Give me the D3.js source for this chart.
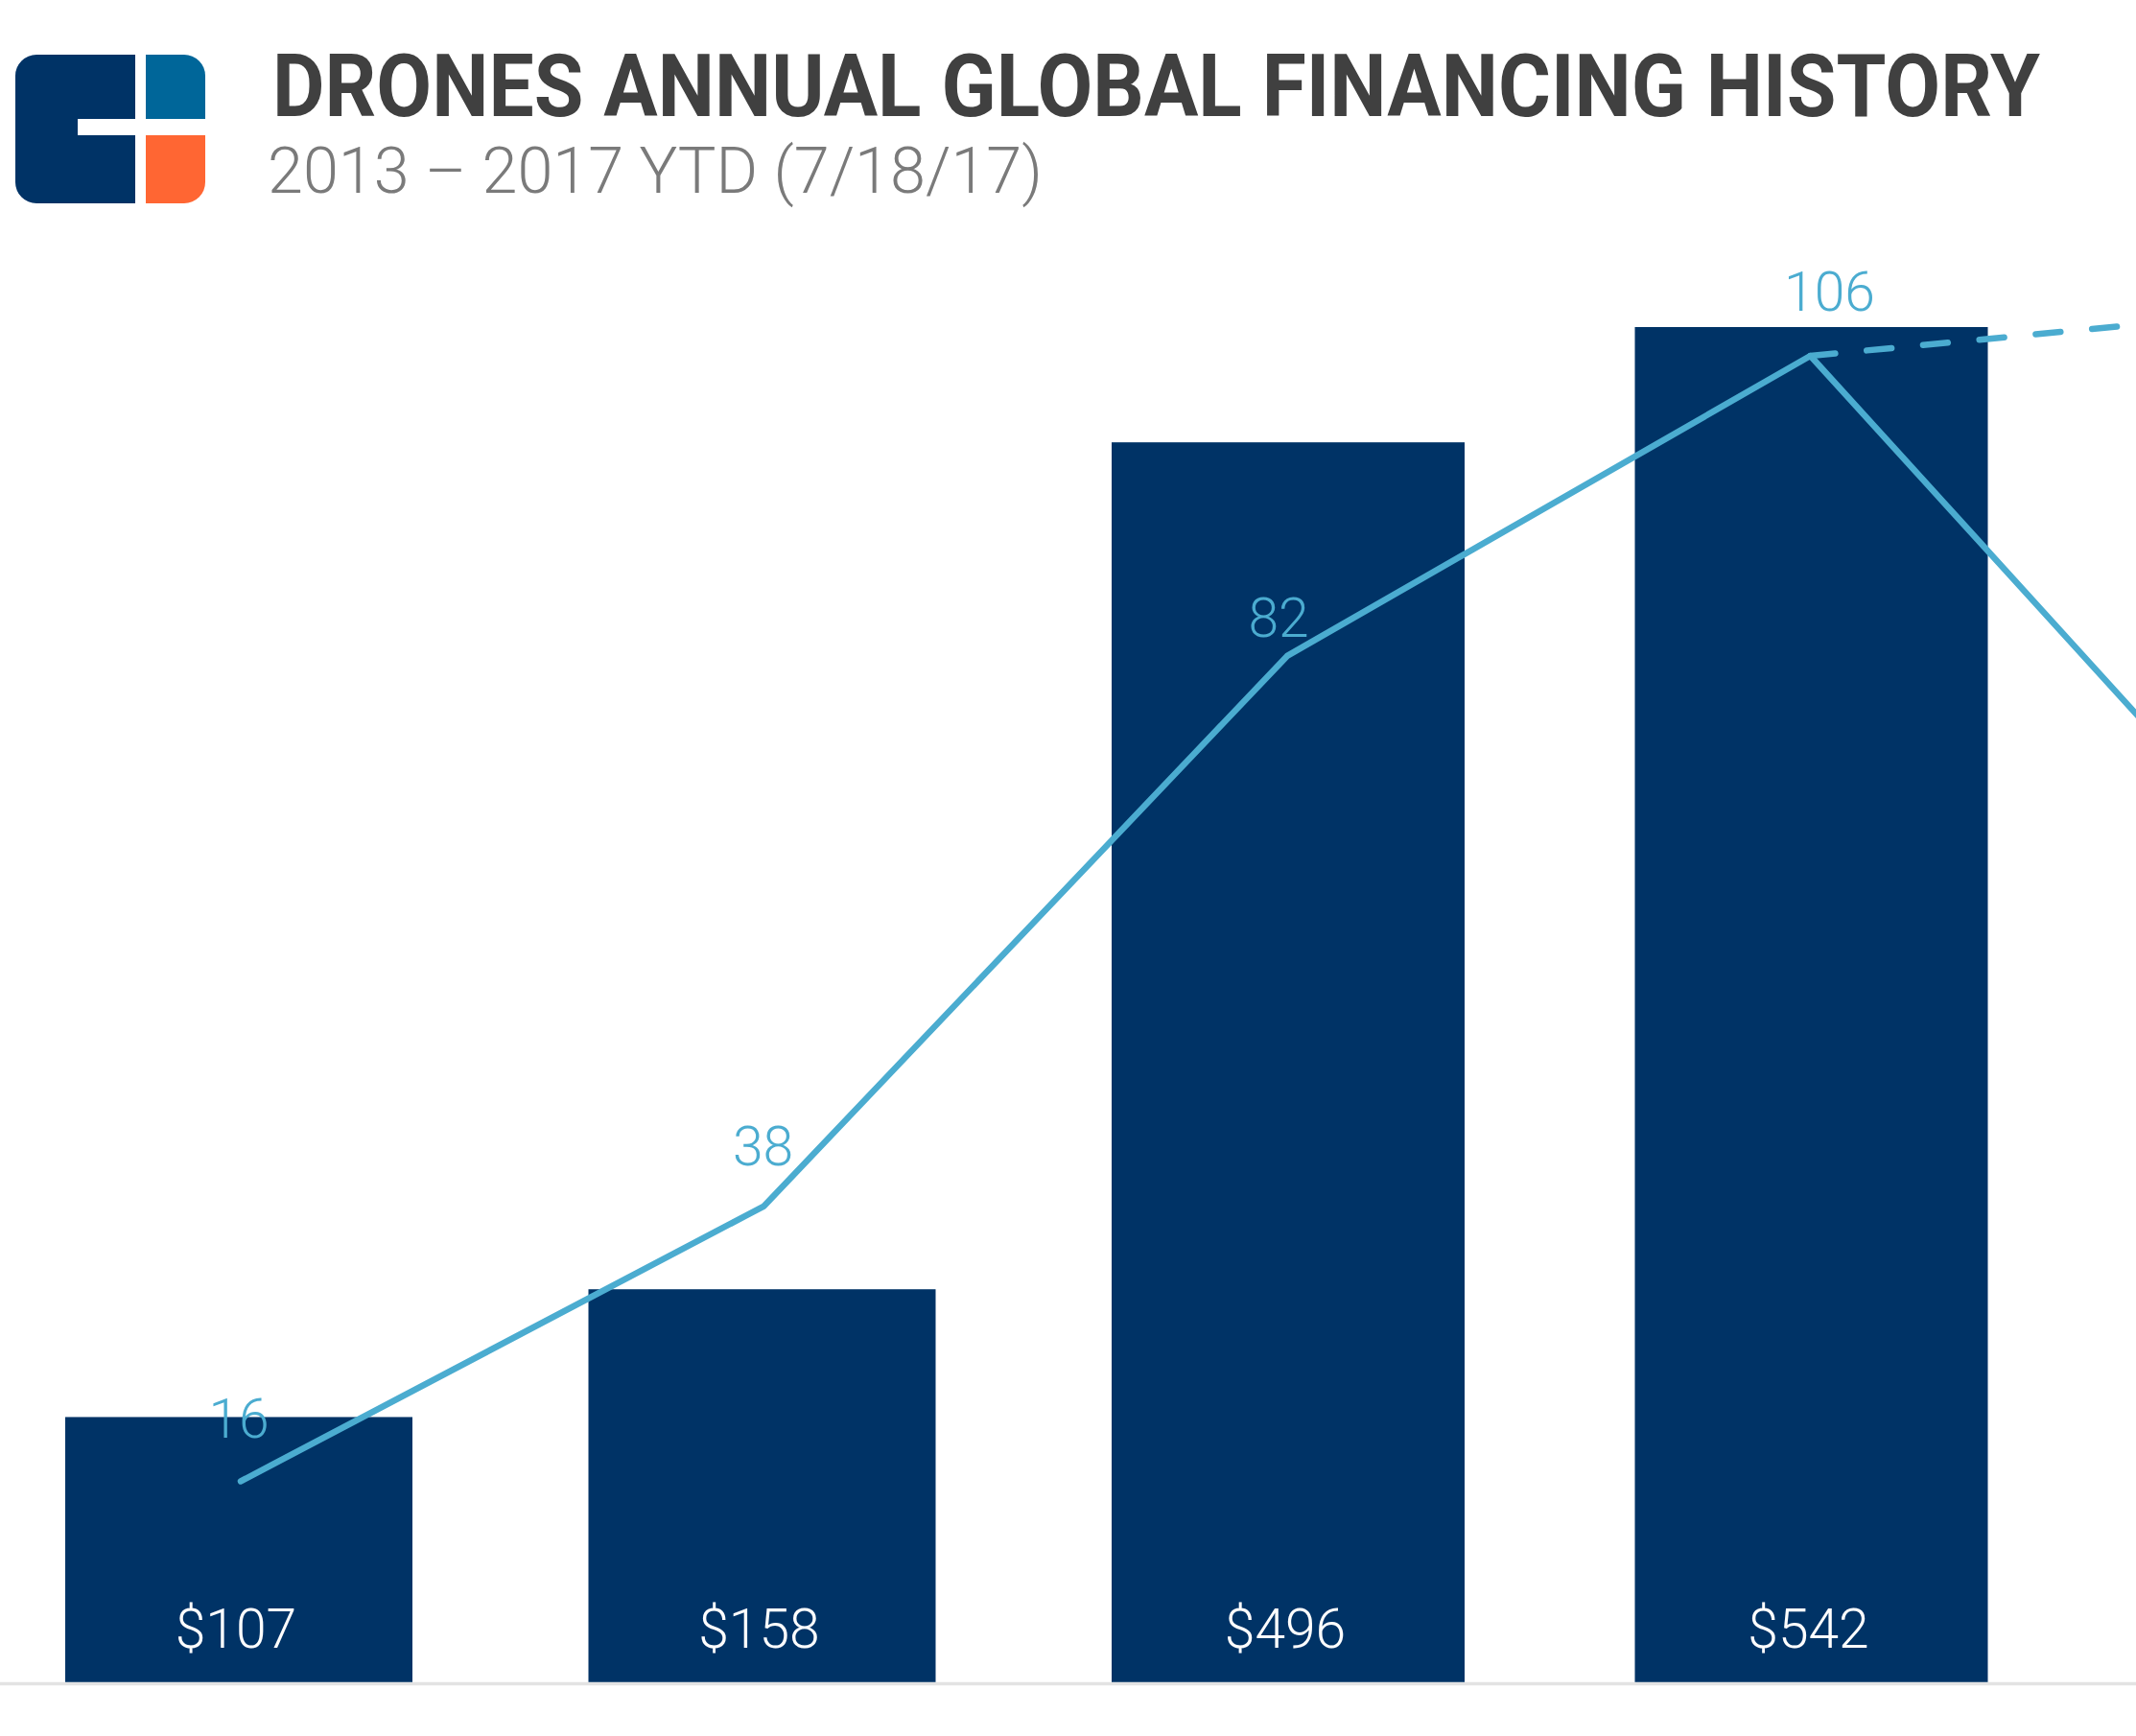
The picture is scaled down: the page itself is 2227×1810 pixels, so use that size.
<!DOCTYPE html>
<html>
<head>
<meta charset="utf-8">
<title>Drones Annual Global Financing History</title>
<script src="https://cdn.jsdelivr.net/npm/d3@7"></script>
<style>
  html, body { margin: 0; background: #fff; overflow: hidden; }
  svg { display: block; }
  text { font-family: Roboto, sans-serif; }
</style>
</head>
<body>
<div id="chart"></div>
<script>
// data (2017 YTD sits past the right edge, only its line is seen)
var years = ["2013", "2014", "2015", "2016", "2017 YTD"];
var funding = [107, 158, 496, 542];
var deals = [16, 38, 82, 106, 60];
var projectedYears = ["2016", "2017 YTD"];
var projectedDeals = [106, 110];

var titleText = "DRONES ANNUAL GLOBAL FINANCING HISTORY";
var subtitleText = "2013 \u2013 2017 YTD (7/18/17)";

var width = 2227, height = 1810;
var navy = "#003366", lineBlue = "#4bacd0";

var svg = d3.select("#chart").append("svg")
    .attr("width", width)
    .attr("height", height);

// scales
var x = d3.scaleBand().domain(years).range([68, 2612]).paddingInner(0.3364);
var yFunding = d3.scaleLinear().domain([0, 542]).range([1757, 341]);
var yDeals = d3.scaleLinear().domain([0, 106]).range([1753, 371]);

// the last two bars are a bit wider in the original
var barExtra = [0, 0, 6, 6];
function pointX(year) { return x(year) + x.bandwidth() / 2 + 2; }

//logo
var logo = svg.append("g");
logo.append("path").attr("fill", navy)
    .attr("d", "M141,57H38A22,22 0 0 0 16,79V190A22,22 0 0 0 38,212H141V141H81V124H141Z");
logo.append("path").attr("fill", "#006699")
    .attr("d", "M152,57H192A22,22 0 0 1 214,79V124H152Z");
logo.append("path").attr("fill", "#ff6633")
    .attr("d", "M152,141H214V190A22,22 0 0 1 192,212H152Z");

//title
svg.append("text")
    .attr("x", 284).attr("y", 121)
    .attr("font-size", 90).attr("font-weight", 700)
    .attr("fill", "#404040")
    .attr("textLength", 1843).attr("lengthAdjust", "spacingAndGlyphs")
    .text(titleText);

svg.append("text")
    .attr("x", 279).attr("y", 201)
    .attr("font-size", 67).attr("font-weight", 300)
    .attr("fill", "#7a7a7a")
    .attr("textLength", 808).attr("lengthAdjust", "spacingAndGlyphs")
    .text(subtitleText);

//bars
svg.selectAll(".bar")
    .data(funding)
    .join("rect")
    .attr("class", "bar")
    .attr("x", (d, i) => x(years[i]))
    .attr("y", d => yFunding(d))
    .attr("width", (d, i) => x.bandwidth() + barExtra[i])
    .attr("height", d => yFunding(0) - yFunding(d))
    .attr("fill", navy);

//baseline
svg.append("line")
    .attr("x1", 0).attr("x2", width)
    .attr("y1", 1755.5).attr("y2", 1755.5)
    .attr("stroke", "#e3e3e3")
    .attr("stroke-width", 3.5);

//funding labels
svg.selectAll(".fundLabel")
    .data(funding)
    .join("text")
    .attr("class", "fundLabel")
    .attr("x", (d, i) => pointX(years[i]) - 2 + barExtra[i] / 2 - 3)
    .attr("y", 1718)
    .attr("text-anchor", "middle")
    .attr("font-size", 57).attr("font-weight", 300)
    .attr("fill", "#fff")
    .text(d => "$" + d);

//deal labels, moved off the line by hand like the original
var labelShift = [[-2, -45], [-1, -43], [-9, -20], [20, -47]];
svg.selectAll(".dealLabel")
    .data(deals.slice(0, 4))
    .join("text")
    .attr("class", "dealLabel")
    .attr("x", (d, i) => pointX(years[i]) + labelShift[i][0])
    .attr("y", (d, i) => yDeals(d) + labelShift[i][1])
    .attr("text-anchor", "middle")
    .attr("font-size", 57).attr("font-weight", 300)
    .attr("fill", lineBlue)
    .text(d => d);

//lines
var dealLine = d3.line()
    .x((d, i) => pointX(years[i]))
    .y(d => yDeals(d));

var projectedLine = d3.line()
    .x((d, i) => pointX(projectedYears[i]))
    .y(d => yDeals(d));

svg.append("path")
    .attr("d", projectedLine(projectedDeals))
    .attr("fill", "none")
    .attr("stroke", lineBlue)
    .attr("stroke-width", 6.5)
    .attr("stroke-linecap", "round")
    .attr("stroke-dasharray", "26 33");

svg.append("path")
    .attr("d", dealLine(deals))
    .attr("fill", "none")
    .attr("stroke", lineBlue)
    .attr("stroke-width", 6.5)
    .attr("stroke-linecap", "round")
    .attr("stroke-linejoin", "round");
</script>
</body>
</html>
